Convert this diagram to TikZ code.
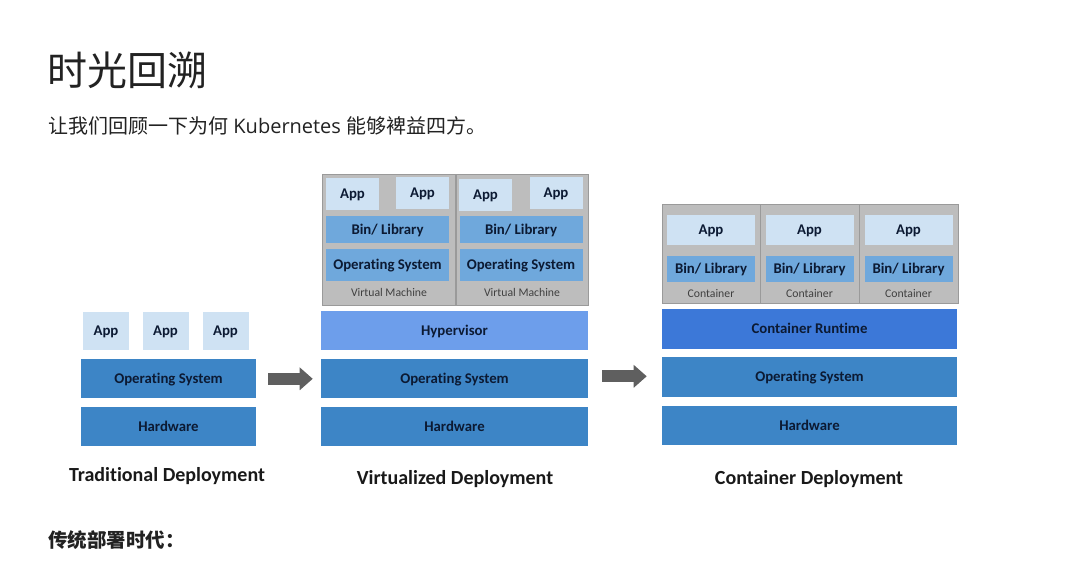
\documentclass[tikz,border=0pt]{standalone}
\usepackage{fontspec}
\setmainfont{Open Sans}
\newfontfamily\cjk{Noto Sans CJK SC}
\newfontfamily\calib{Carlito}[Ligatures=CommonOff]
\usetikzlibrary{positioning}
\usetikzlibrary{arrows.meta}
\definecolor{applight}{HTML}{CFE2F3}
\definecolor{binblue}{HTML}{6FA8DC}
\definecolor{layerblue}{HTML}{3D85C6}
\definecolor{hyperblue}{HTML}{6D9EEB}
\definecolor{runtimeblue}{HTML}{3C78D8}
\definecolor{vmgray}{HTML}{BDBDBD}
\definecolor{vmedge}{HTML}{9A9A9A}
\definecolor{ink}{HTML}{0C1A33}
\definecolor{arrowgray}{HTML}{5F5F5F}
\definecolor{textdark}{HTML}{222222}

\begin{document}
\begin{tikzpicture}[x=0.75pt, y=-0.75pt,
    layer/.style={rectangle, inner sep=0pt, text=ink, text height=7pt, text depth=0pt, font=\calib\bfseries\fontsize{11.1}{13}\selectfont},
    tradapp/.style={layer, fill=applight, minimum width=34.5pt, minimum height=28.5pt},
    tradlayer/.style={layer, fill=layerblue, minimum width=131.25pt, minimum height=29.5pt},
    virtlayer/.style={layer, fill=layerblue, minimum width=200.25pt, minimum height=29.25pt},
    contlayer/.style={layer, fill=layerblue, minimum width=221.25pt, minimum height=29.5pt},
    vmbox/.style={rectangle, fill=vmgray, draw=vmedge, minimum width=99.75pt, minimum height=98.25pt},
    vmapp/.style={layer, fill=applight, minimum width=39.75pt, minimum height=24pt},
    vmbin/.style={layer, fill=binblue, minimum width=92.25pt, minimum height=20.25pt},
    vmos/.style={layer, fill=binblue, minimum width=92.25pt, minimum height=24pt},
    ctbox/.style={rectangle, fill=vmgray, draw=vmedge, minimum width=73.75pt, minimum height=74.25pt},
    ctapp/.style={layer, fill=applight, minimum width=66pt, minimum height=22.5pt},
    ctbin/.style={layer, fill=binblue, minimum width=66pt, minimum height=19.5pt},
    tag/.style={inner sep=0pt, text=black!75, font=\calib\fontsize{8.8}{10}\selectfont},
    caption/.style={inner sep=0pt, text=black!90, font=\calib\bfseries\fontsize{15}{18}\selectfont},
    bigarrow/.style={draw=arrowgray, line width=9pt, -{Triangle[length=9.75pt,width=16.5pt]}} ]

    \fill[white] (0,0) rectangle (1065,562);
    \useasboundingbox (0,0) rectangle (1065,562);

    %Heading
    \node[anchor=west, inner sep=0pt, text=textdark, font=\cjk\fontsize{30}{34}\selectfont] (title) at (47,70) {时光回溯};
    \node[anchor=west, inner sep=0pt, text=textdark, font=\fontsize{15}{18}\selectfont] (intro) at (48,126) {{\cjk 让我们回顾一下为何} Kubernetes {\cjk 能够裨益四方。}};
    \node[anchor=west, inner sep=0pt, text=textdark, font=\cjk\bfseries\fontsize{14.6}{17}\selectfont] (era) at (48,540) {传统部署时代：};

    %Traditional
    \node[tradlayer, minimum height=29.25pt] (hw1) at (168.5,426.5) {Hardware};
    \node[tradlayer] (os1) [above=6pt of hw1] {Operating System};
    \node[tradapp] (app1a) at (106,331) {App};
    \node[tradapp] (app1b) at (165.5,331) {App};
    \node[tradapp] (app1c) at (225.5,331) {App};
    \node[caption] (trad) at (167,476) {Traditional Deployment};

    %Virtualized
    \node[virtlayer] (hw2) at (454.5,426.5) {Hardware};
    \node[virtlayer] (os2) [above=6pt of hw2] {Operating System};
    \node[virtlayer, fill=hyperblue] (hyper) [above=6.75pt of os2] {Hypervisor};
    \node[vmbox] (vm1) at (389,239.5) {};
    \node[vmbox, minimum width=99pt] (vm2) at (522,239.5) {};
    \node[vmapp] (app2a) at (352.5,194) {App};
    \node[vmapp] (app2b) at (422.5,192.5) {App};
    \node[vmapp] (app2c) at (485.5,195) {App};
    \node[vmapp] (app2d) at (556,192.5) {App};
    \node[vmbin] (bin2a) at (387.5,229.5) {Bin/ Library};
    \node[vmbin] (bin2b) at (521,229.5) {Bin/ Library};
    \node[vmos] (vos2a) at (387.5,265) {Operating System};
    \node[vmos] (vos2b) at (521,265) {Operating System};
    \node[tag] (vmtag1) at (389,292) {Virtual Machine};
    \node[tag] (vmtag2) at (522,292) {Virtual Machine};
    \node[caption] (virt) at (455,479) {Virtualized Deployment};

    %Container
    \node[contlayer] (hw3) at (809.5,425.5) {Hardware};
    \node[contlayer] (os3) [above=6.5pt of hw3] {Operating System};
    \node[contlayer, fill=runtimeblue] (runtime) [above=6pt of os3] {Container Runtime};
    \node[ctbox] (ct1) at (711,253.5) {};
    \node[ctbox] (ct2) [right=0pt of ct1] {};
    \node[ctbox] (ct3) [right=0pt of ct2] {};
    \node[ctapp] (app3a) at (711,230) {App};
    \node[ctapp] (app3b) at (809.5,230) {App};
    \node[ctapp] (app3c) at (908.5,230) {App};
    \node[ctbin] (bin3a) at (711,269) {Bin/ Library};
    \node[ctbin] (bin3b) at (809.5,269) {Bin/ Library};
    \node[ctbin] (bin3c) at (908.5,269) {Bin/ Library};
    \node[tag] (cttag1) at (711,293) {Container};
    \node[tag] (cttag2) at (809.5,293) {Container};
    \node[tag] (cttag3) at (908.5,293) {Container};
    \node[caption] (cont) at (809,479) {Container Deployment};

    %Lines
    \draw[bigarrow, shorten <=9pt, shorten >=6pt] (os1.east) -- (os1.east -| os2.west);
    \draw[bigarrow, shorten <=10.5pt, shorten >=11.25pt] ([yshift=2pt]os2.east) -- ([yshift=2pt]os2.east -| os3.west);
\end{tikzpicture}
\end{document}
